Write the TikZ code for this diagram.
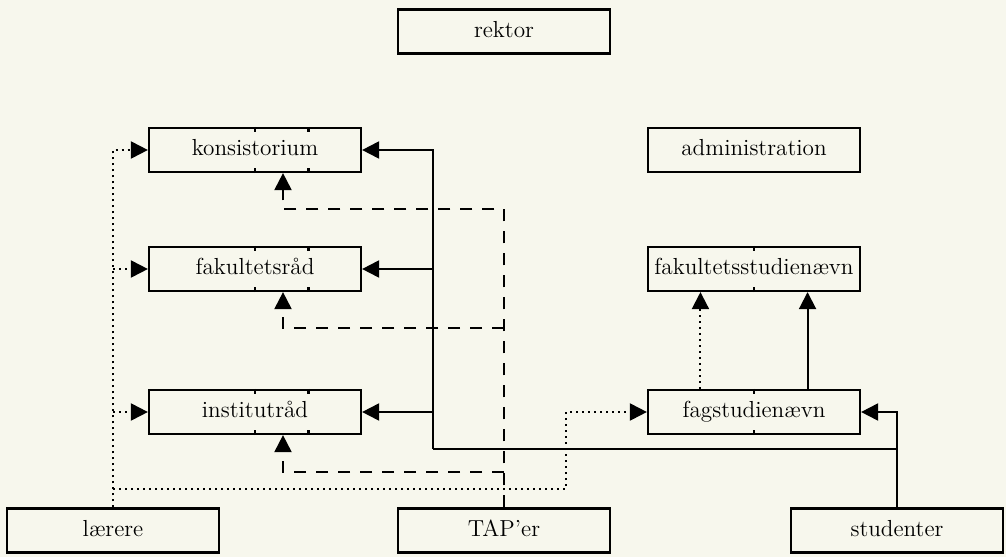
\documentclass[tikz,border=0pt]{standalone}
\usepackage{tikz}
\usetikzlibrary{calc,arrows.meta}
\definecolor{papir}{RGB}{247,247,237}

\tikzset{
  organ/.style={draw, line width=1.1pt, minimum width=106pt, minimum height=22pt,
    inner sep=0pt, text height=8pt, text depth=2.3pt, font=\fontsize{11.6}{14}\selectfont},
  linje/.style={line width=1pt},
  pil/.style={linje, -{Triangle[length=8.5pt,width=8.5pt]}},
  stiplet/.style={dash pattern=on 6pt off 5pt},
  prikket/.style={dash pattern=on 1pt off 2pt}
}

\begin{document}
\begin{tikzpicture}[x=0.5pt,y=-0.5pt]
      \fill[papir] (0,0) rectangle (1006,557);
      \useasboundingbox (0,0) rectangle (1006,557);
      % kasser
      \node (re) at (504,31.5)   [organ] {rektor};
      \node (ko) at (255,150)    [organ] {konsistorium};
      \node (ad) at (754,150)    [organ] {administration};
      \node (fa) at (255,269)    [organ] {fakultetsråd};
      \node (fss) at (754,269)   [organ] {fakultetsstudienævn};
      \node (in) at (255,412)    [organ] {institutråd};
      \node (fs) at (754,412)    [organ] {fagstudienævn};
      \node (la) at (113,530.5)  [organ] {lærere};
      \node (ta) at (504,530.5)  [organ] {TAP’er};
      \node (st) at (897,530.5)  [organ] {studenter};
      % delestreger
      \foreach \b in {ko,fa,in}
        \draw[line width=1.1pt]
        (\b.north) -- ++(0,5) (\b.south) -- ++(0,-5)
        ($(\b.north)!0.5!(\b.north east)$) -- ++(0,5)
        ($(\b.south)!0.5!(\b.south east)$) -- ++(0,-5);
      \foreach \b in {fss,fs}
        \draw[line width=1.1pt] (\b.north) -- ++(0,5) (\b.south) -- ++(0,-5);
      % studenter
      \coordinate (sb) at (433,449);
      \draw[pil] (st.north) |- (fs.east);
      \draw[linje] (st.north |- sb) -- (sb);
      \draw[pil] (sb) |- (ko.east);
      \draw[pil] (sb |- fa.east) -- (fa.east);
      \draw[pil] (sb |- in.east) -- (in.east);
      \draw[pil] ($(fs.north)!0.5!(fs.north east)$) -- ($(fss.south)!0.5!(fss.south east)$);
      % TAP'er
      \coordinate (dk) at (283,209);
      \coordinate (df) at (283,328);
      \coordinate (di) at (283,472);
      \draw[pil,stiplet] (ta.north) |- (dk) -- (dk |- ko.south);
      \draw[pil,stiplet] (ta.north |- df) -- (df) -- (df |- fa.south);
      \draw[pil,stiplet] (ta.north |- di) -- (di) -- (di |- in.south);
      % lærere
      \coordinate (dl) at (566,489);
      \draw[pil,prikket] (la.north) |- (ko.west);
      \draw[pil,prikket] (la.north |- fa.west) -- (fa.west);
      \draw[pil,prikket] (la.north |- in.west) -- (in.west);
      \draw[pil,prikket] (la.north |- dl) -- (dl) |- (fs.west);
      \draw[pil,prikket] ($(fs.north)!0.5!(fs.north west)$) -- ($(fss.south)!0.5!(fss.south west)$);
    \end{tikzpicture}
\end{document}
